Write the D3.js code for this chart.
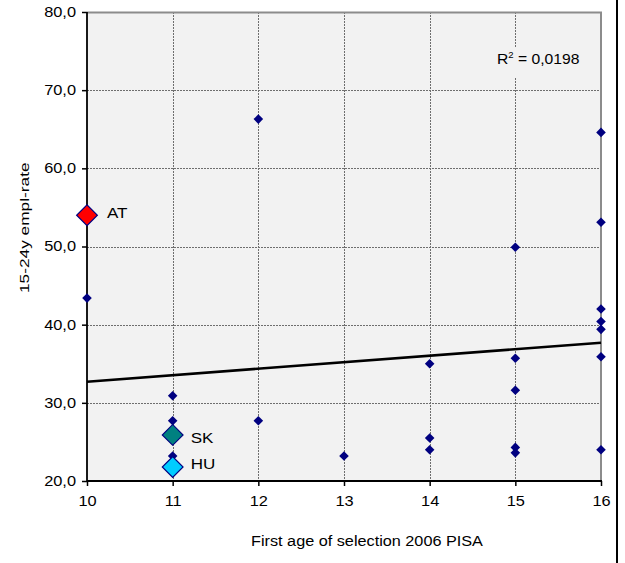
<!DOCTYPE html>
<html>
<head>
<meta charset="utf-8">
<script src="https://cdn.jsdelivr.net/npm/d3@7"></script>
<style>
  html, body { margin: 0; padding: 0; background: #ffffff; }
  svg { display: block; font-family: "Liberation Sans", Arial, sans-serif; }
</style>
</head>
<body>
<svg id="chart" width="625" height="563"></svg>
<script>
// First age of tracking (PISA 2006) against youth employment rate, one point per country
const selectionAge = [10, 10, 11, 11, 11, 11, 11, 12, 12, 13, 14, 14, 14,
                      15, 15, 15, 15, 15, 16, 16, 16, 16, 16, 16, 16];
const emplRate     = [43.4, 54.0, 30.9, 27.7, 25.9, 23.2, 21.8, 66.3, 27.7, 23.2, 35.0, 25.5, 24.0,
                      49.9, 35.7, 31.6, 24.3, 23.6, 64.6, 53.1, 42.0, 40.4, 39.4, 35.9, 24.0];

// Countries drawn with a larger, coloured marker
const highlightNames = ["AT", "SK", "HU"];
const highlightAge   = [10, 11, 11];
const highlightRate  = [54.0, 25.9, 21.8];
const highlightFill  = ["#ff0000", "#008080", "#00ccff"];

const xTicks = [10, 11, 12, 13, 14, 15, 16];
const yTicks = [20, 30, 40, 50, 60, 70, 80];
const r2Label = "0,0198";

const svg = d3.select("#chart");
const plotL = 87, plotR = 601, plotT = 12, plotB = 481;
const SX = 1.17;            // horizontal widening of the lettering

const x = d3.scaleLinear().domain([10, 16]).range([plotL, plotR]);
const y = d3.scaleLinear().domain([20, 80]).range([plotB, plotT]);
const fmt = v => d3.format(".1f")(v).replace(".", ",");

// text placed at (px, py), widened horizontally around its anchor
function label(parent, px, py, txt, size, anchor, sx = SX) {
  return parent.append("text")
    .attr("transform", `translate(${px},${py}) scale(${sx},1)`)
    .attr("text-anchor", anchor || "start")
    .attr("font-size", size + "px").attr("fill", "#000")
    .text(txt);
}

// plot area
svg.append("rect")
  .attr("x", plotL).attr("y", plotT)
  .attr("width", plotR - plotL).attr("height", plotB - plotT)
  .attr("fill", "#f2f2f2");

// dashed grid
const grid = svg.append("g").attr("stroke", "#6e6e6e").attr("stroke-width", 1)
  .attr("stroke-dasharray", "2,1");
grid.selectAll("line.h").data(yTicks.filter(v => v > 20 && v < 80)).join("line")
  .attr("x1", plotL).attr("x2", plotR)
  .attr("y1", d => Math.round(y(d)) + 0.5).attr("y2", d => Math.round(y(d)) + 0.5);
grid.selectAll("line.v").data(xTicks.filter(v => v > 10 && v < 16)).join("line")
  .attr("y1", plotT).attr("y2", plotB)
  .attr("x1", d => Math.round(x(d)) + 0.5).attr("x2", d => Math.round(x(d)) + 0.5);

// grey top and right border of the plot
svg.append("path")
  .attr("d", `M${plotL},${plotT + 0.5}H${plotR}V${plotB}`)
  .attr("fill", "none").attr("stroke", "#8c8c8c").attr("stroke-width", 2);

// axes
const yAxis = d3.axisLeft(y).tickValues(yTicks).tickFormat(fmt).tickSize(5).tickPadding(6);
const xAxis = d3.axisBottom(x).tickValues(xTicks).tickFormat(d3.format("d")).tickSize(5).tickPadding(10);

const gy = svg.append("g").attr("transform", `translate(${plotL},0)`).call(yAxis);
const gx = svg.append("g").attr("transform", `translate(0,${plotB})`).call(xAxis);
[gy, gx].forEach(g => {
  g.select(".domain").remove();
  g.selectAll("line").attr("stroke", "#000").attr("stroke-width", 1.5);
  g.selectAll("text")
    .attr("font-size", "14px").attr("fill", "#000")
    .attr("font-family", "'Liberation Sans', Arial, sans-serif")
    .attr("x", function () { return (+d3.select(this).attr("x") || 0) / SX; })
    .attr("transform", `scale(${SX},1)`);
});
svg.append("line").attr("x1", plotL).attr("x2", plotL).attr("y1", plotT).attr("y2", plotB + 1)
  .attr("stroke", "#000").attr("stroke-width", 1.8);
svg.append("line").attr("x1", plotL).attr("x2", plotR + 1).attr("y1", plotB).attr("y2", plotB)
  .attr("stroke", "#000").attr("stroke-width", 1.8);

// least-squares trend line
const mx = d3.mean(selectionAge), my = d3.mean(emplRate);
const sxy = d3.sum(selectionAge, (v, i) => (v - mx) * (emplRate[i] - my));
const sxx = d3.sum(selectionAge, v => (v - mx) * (v - mx));
const slope = sxy / sxx, intercept = my - slope * mx;
svg.append("line")
  .attr("x1", x(10)).attr("y1", y(intercept + slope * 10))
  .attr("x2", x(16)).attr("y2", y(intercept + slope * 16))
  .attr("stroke", "#000").attr("stroke-width", 2.6);

// country points
const square = d3.symbol().type(d3.symbolSquare);
svg.append("g").selectAll("path").data(selectionAge.map((v, i) => [v, emplRate[i]])).join("path")
  .attr("d", square.size(46)())
  .attr("transform", d => `translate(${x(d[0])},${y(d[1])}) rotate(45)`)
  .attr("fill", "#000080");

// highlighted countries with their labels
const labelShift = [[20, 3], [18, 8], [18, 2]];
const hl = svg.append("g");
highlightNames.forEach((name, i) => {
  const cx = x(highlightAge[i]), cy = y(highlightRate[i]);
  hl.append("path")
    .attr("d", square.size(215)())
    .attr("transform", `translate(${cx},${cy}) rotate(45)`)
    .attr("fill", highlightFill[i]).attr("stroke", "#000080").attr("stroke-width", 1.2);
  label(hl, cx + labelShift[i][0], cy + labelShift[i][1], name, 15.5, "start", 1.1);
});

// R² annotation on a background patch that interrupts the grid
const r2 = svg.append("g");
r2.append("rect").attr("x", 490).attr("y", 47).attr("width", 96).attr("height", 30).attr("fill", "#f2f2f2");
const r2t = r2.append("text")
  .attr("transform", `translate(497,63.5) scale(1.12,1)`)
  .attr("font-size", "14px").attr("fill", "#000");
r2t.append("tspan").text("R");
r2t.append("tspan").attr("font-size", "8.5px").attr("dy", -6).text("2");
r2t.append("tspan").attr("dy", 6).text(" = " + r2Label);

// axis titles
label(svg, 367, 546, "First age of selection 2006 PISA", 14, "middle", 1.16);
svg.append("text")
  .attr("transform", "translate(29,293) rotate(-90) scale(1.33,1)")
  .attr("text-anchor", "start")
  .attr("font-size", "13px").attr("fill", "#000")
  .text("15-24y empl-rate");

// right frame edge
svg.append("line").attr("x1", 617).attr("x2", 617).attr("y1", 0).attr("y2", 563)
  .attr("stroke", "#000").attr("stroke-width", 2);
</script>
</body>
</html>
